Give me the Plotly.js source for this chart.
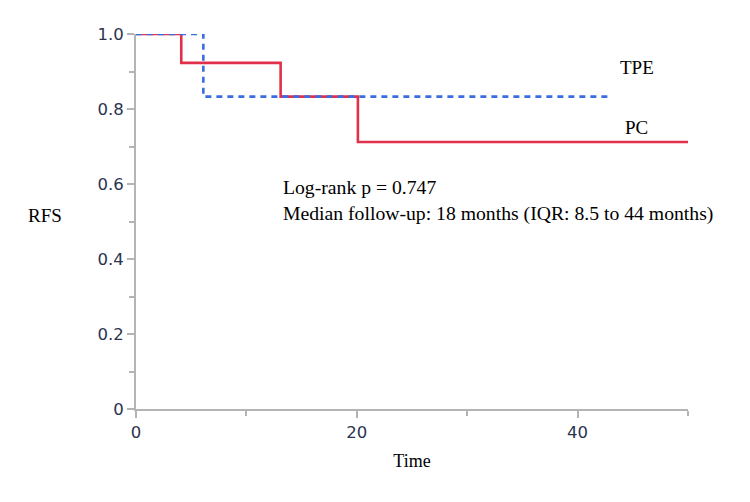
<!DOCTYPE html>
<html>
<head>
<meta charset="utf-8">
<script src="https://cdn.plot.ly/plotly-3.0.1.min.js"></script>
<style>
  html, body { margin: 0; padding: 0; background: #fff; }
  #chart { width: 750px; height: 502px; }
</style>
</head>
<body>
<div id="chart"></div>
<script>
// Kaplan–Meier step curves for recurrence-free survival
const pcTime  = [0, 4.1, 13.1, 20.1, 50];
const pcSurv  = [1.0, 0.923, 0.833, 0.712, 0.712];
const tpeTime = [0, 6.1, 43.1];
const tpeSurv = [1.0, 0.833, 0.833];

const yTickVals = [0, 0.2, 0.4, 0.6, 0.8, 1.0];
const yTickText = ['0', '0.2', '0.4', '0.6', '0.8', '1.0'];
const xTickVals = [0, 20, 40];
const xTickText = ['0', '20', '40'];

const axisGrey = '#b4b4b4';
const tickFont = { family: 'DejaVu Sans, Verdana, sans-serif', size: 16.5, color: '#2a3350' };
const serif = 'Liberation Serif, Times New Roman, serif';
const textFont = { family: serif, size: 19, color: '#000' };

const traces = [
  {
    x: pcTime, y: pcSurv, name: 'PC', type: 'scatter', mode: 'lines',
    line: { shape: 'hv', color: '#e0304a', width: 2.6 },
    cliponaxis: false, hoverinfo: 'skip'
  },
  {
    x: tpeTime, y: tpeSurv, name: 'TPE', type: 'scatter', mode: 'lines',
    line: { shape: 'hv', color: '#3a6ee0', width: 2.6, dash: '6px,5px' },
    cliponaxis: false, hoverinfo: 'skip'
  }
];

const layout = {
  width: 750, height: 502,
  margin: { l: 136, r: 62, t: 34, b: 93 },
  paper_bgcolor: '#fff', plot_bgcolor: '#fff',
  showlegend: false,
  xaxis: {
    range: [0, 50], showgrid: false, zeroline: false,
    showline: true, linecolor: axisGrey, linewidth: 2,
    ticks: 'outside', ticklen: 7, tickwidth: 2, tickcolor: axisGrey,
    tickvals: xTickVals, ticktext: xTickText, tickfont: tickFont,
    minor: { tickvals: [10, 30, 50], ticks: 'outside', ticklen: 5, tickwidth: 2, tickcolor: axisGrey },
    title: { text: 'Time', font: { family: serif, size: 18, color: '#000' }, standoff: 14 }
  },
  yaxis: {
    range: [0, 1], showgrid: false, zeroline: false,
    showline: true, linecolor: axisGrey, linewidth: 2,
    ticks: 'outside', ticklen: 7, tickwidth: 2, tickcolor: axisGrey,
    tickvals: yTickVals, ticktext: yTickText, tickfont: tickFont,
    minor: { tickvals: [0.1, 0.3, 0.5, 0.7, 0.9], ticks: 'outside', ticklen: 5, tickwidth: 2, tickcolor: axisGrey }
  },
  annotations: [
    { text: 'RFS', xref: 'paper', yref: 'paper', x: -0.165, y: 0.515, showarrow: false,
      xanchor: 'center', yanchor: 'middle', font: textFont },
    { text: 'TPE', xref: 'x', yref: 'y', x: 45.4, y: 0.91, showarrow: false,
      xanchor: 'center', yanchor: 'middle', font: textFont },
    { text: 'PC', xref: 'x', yref: 'y', x: 45.3, y: 0.718, showarrow: false,
      xanchor: 'center', yanchor: 'bottom', font: textFont },
    { text: 'Log-rank p = 0.747<br>Median follow-up: 18 months (IQR: 8.5 to 44 months)',
      xref: 'x', yref: 'y', x: 13.1, y: 0.557, showarrow: false, align: 'left',
      xanchor: 'left', yanchor: 'middle', font: { family: serif, size: 19.7, color: '#000' } }
  ]
};

Plotly.newPlot('chart', traces, layout, { staticPlot: true, displayModeBar: false });
</script>
</body>
</html>
